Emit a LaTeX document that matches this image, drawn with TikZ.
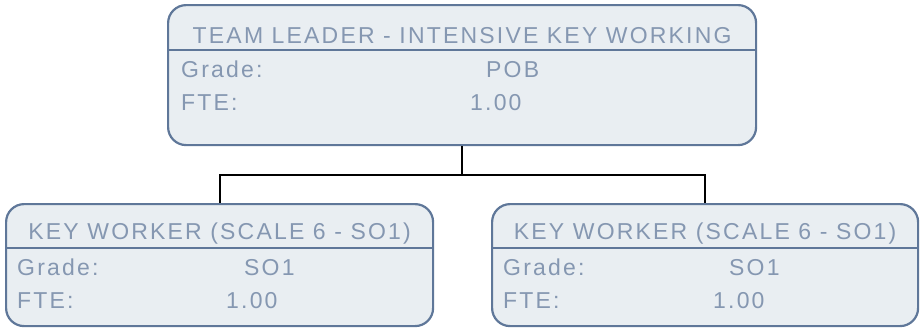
\documentclass[tikz,border=0pt]{standalone}
\usepackage{fontspec}
\setmainfont{Liberation Sans}[LetterSpace=9.5]
\definecolor{bordercol}{HTML}{5F7799}
\definecolor{fillcol}{HTML}{E9EEF2}
\definecolor{textcol}{HTML}{8597B1}
\begin{document}
\begin{tikzpicture}[x=1pt,y=-1pt,
  box/.style={draw=bordercol, line width=2.2pt, fill=fillcol, rounded corners=18pt,
    inner sep=0pt, anchor=north west},
  txt/.style={text=textcol, inner sep=0pt, font=\fontsize{23}{27}\selectfont},
  sep/.style={draw=bordercol, line width=2.2pt},
  conn/.style={draw=black, line width=2pt}]
\useasboundingbox (0,0) rectangle (923,327);
% boxes
\node[box, minimum width=588pt, minimum height=140pt] (tl) at (167,4) {};
\node[box, minimum width=427pt, minimum height=122pt] (kw1) at (5,203) {};
\node[box, minimum width=426pt, minimum height=122pt] (kw2) at (491,203) {};
% header separators
\draw[sep] ([yshift=-46pt]tl.north west) -- ([yshift=-46pt]tl.north east);
\draw[sep] ([yshift=-45pt]kw1.north west) -- ([yshift=-45pt]kw1.north east);
\draw[sep] ([yshift=-45pt]kw2.north west) -- ([yshift=-45pt]kw2.north east);
% top texts
\node[txt, anchor=base] (tlh) at ([yshift=-39.5pt]tl.north) {TEAM LEADER - INTENSIVE KEY WORKING};
\node[txt, anchor=base west] (tlg) at ([shift={(14pt,-73pt)}]tl.north west) {Grade:};
\node[txt, anchor=base west] (tlf) at ([shift={(14pt,-106pt)}]tl.north west) {FTE:};
\node[txt, anchor=base west] (tlgv) at ([shift={(319pt,-73pt)}]tl.north west) {POB};
\node[txt, anchor=base west] (tlfv) at ([shift={(303pt,-106pt)}]tl.north west) {1.00};
% key worker 1
\node[txt, anchor=base] (k1h) at ([yshift=-36pt]kw1.north) {KEY WORKER (SCALE 6 - SO1)};
\node[txt, anchor=base west] (k1g) at ([shift={(12pt,-72.5pt)}]kw1.north west) {Grade:};
\node[txt, anchor=base west] (k1f) at ([shift={(12pt,-105pt)}]kw1.north west) {FTE:};
\node[txt, anchor=base west] (k1gv) at ([shift={(239pt,-72.5pt)}]kw1.north west) {SO1};
\node[txt, anchor=base west] (k1fv) at ([shift={(221pt,-105pt)}]kw1.north west) {1.00};
% key worker 2
\node[txt, anchor=base] (k2h) at ([yshift=-36pt]kw2.north) {KEY WORKER (SCALE 6 - SO1)};
\node[txt, anchor=base west] (k2g) at ([shift={(12pt,-72.5pt)}]kw2.north west) {Grade:};
\node[txt, anchor=base west] (k2f) at ([shift={(12pt,-105pt)}]kw2.north west) {FTE:};
\node[txt, anchor=base west] (k2gv) at ([shift={(238pt,-72.5pt)}]kw2.north west) {SO1};
\node[txt, anchor=base west] (k2fv) at ([shift={(222pt,-105pt)}]kw2.north west) {1.00};
% connectors
\coordinate (j) at ([yshift=-29pt]tl.south);
\draw[conn] (tl.south) -- (j);
\draw[conn] (kw1.north) |- (j) -| (kw2.north);
\end{tikzpicture}
\end{document}
